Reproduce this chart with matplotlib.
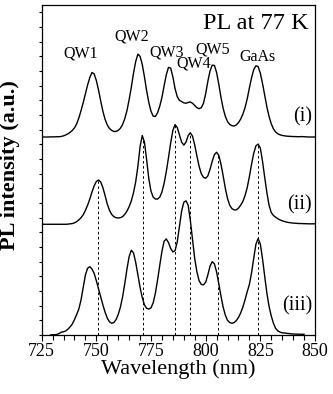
"""
PL Spectra Plot
===============
Stacked 77 K photoluminescence spectra of three samples, with dashed
markers at the peak positions of spectrum (ii).
"""

import numpy as np
import matplotlib
matplotlib.use("Agg")
import matplotlib.pyplot as plt
from matplotlib.ticker import MultipleLocator, NullFormatter

# Wavelength grids (nm)
wl_i = list(range(725, 851))
wl_ii = list(range(725, 851))
wl_iii = list(range(729, 846))

# PL intensity above each spectrum's own baseline (a.u.)
pl_i = [
    0, 0, 0, 0, 0.01, 0.01, 0.01, 0.02, 0.02, 0.04,
    0.08, 0.14, 0.22, 0.32, 0.45, 0.62, 0.9, 1.3, 1.8, 2.35,
    2.95, 3.55, 4.05, 4.4, 4.3, 3.85, 3.2, 2.45, 1.75, 1.2,
    0.82, 0.58, 0.45, 0.38, 0.38, 0.45, 0.6, 0.85, 1.25, 1.8,
    2.55, 3.4, 4.35, 5.15, 5.65, 5.5, 4.95, 4.1, 3.15, 2.35,
    1.75, 1.42, 1.4, 1.65, 2.1, 2.7, 3.5, 4.25, 4.75, 4.7,
    4.1, 3.3, 2.75, 2.5, 2.42, 2.33, 2.3, 2.36, 2.39, 2.3,
    2.15, 2.0, 1.93, 2.0, 2.3, 2.95, 3.8, 4.5, 4.9, 4.88,
    4.4, 3.6, 2.7, 1.95, 1.4, 1.05, 0.86, 0.77, 0.75, 0.82,
    0.98, 1.22, 1.55, 2.0, 2.6, 3.35, 4.05, 4.6, 4.86, 4.8,
    4.35, 3.65, 2.85, 2.05, 1.4, 0.9, 0.55, 0.34, 0.22, 0.15,
    0.11, 0.08, 0.06, 0.05, 0.04, 0.03, 0.03, 0.02, 0.02, 0.03,
    0.02, 0.01, 0, 0, 0, 0,
]
pl_ii = [
    0, 0, 0, 0, 0, 0, 0, 0, 0, 0,
    0, 0, 0.01, 0.03, 0.05, 0.1, 0.18, 0.3, 0.45, 0.65,
    0.95, 1.3, 1.72, 2.2, 2.62, 2.92, 3.02, 2.88, 2.5, 1.95,
    1.38, 0.95, 0.68, 0.52, 0.45, 0.43, 0.45, 0.52, 0.68, 0.9,
    1.2, 1.6, 2.15, 2.9, 3.95, 5.3, 6.05, 5.6, 4.4, 3.1,
    2.25, 1.85, 1.72, 1.72, 1.85, 2.2, 2.8, 3.6, 4.55, 5.55,
    6.4, 6.8, 6.6, 6.1, 5.6, 5.4, 5.6, 6.05, 6.24, 6.0,
    5.4, 4.65, 3.95, 3.45, 3.2, 3.14, 3.3, 3.75, 4.3, 4.75,
    4.91, 4.7, 4.1, 3.3, 2.45, 1.75, 1.3, 1.07, 0.98, 0.98,
    1.1, 1.3, 1.55, 1.95, 2.5, 3.25, 4.1, 4.85, 5.35, 5.47,
    5.2, 4.3, 3.2, 2.15, 1.3, 0.8, 0.6, 0.48, 0.38, 0.3,
    0.24, 0.19, 0.15, 0.12, 0.1, 0.08, 0.07, 0.06, 0.05, 0.05,
    0.04, 0.04, 0.03, 0.03, 0.03, 0.03,
]
pl_iii = [
    0, 0.02, 0.02, 0.04, 0.1, 0.2, 0.22, 0.28, 0.4, 0.56,
    0.75, 1.05, 1.4, 1.78, 2.4, 3.25, 4.1, 4.55, 4.66, 4.5,
    4.2, 3.7, 3.15, 2.6, 2.05, 1.55, 1.15, 0.9, 0.8, 0.85,
    1.05, 1.4, 1.9, 2.6, 3.5, 4.5, 5.35, 5.78, 5.6, 4.95,
    4.1, 3.25, 2.55, 2.05, 1.82, 1.77, 1.85, 2.2, 2.85, 3.75,
    4.75, 5.7, 6.4, 6.55, 6.3, 5.9, 5.66, 5.75, 6.35, 7.4,
    8.45, 9.05, 9.15, 8.85, 7.8, 6.5, 5.2, 4.3, 3.7, 3.45,
    3.42, 3.6, 4.1, 4.7, 5.0, 4.85, 4.3, 3.5, 2.65, 1.9,
    1.35, 1.0, 0.85, 0.8, 0.85, 0.98, 1.2, 1.5, 1.9, 2.4,
    2.95, 3.45, 4.25, 5.25, 6.2, 6.58, 6.2, 5.2, 4.0, 2.85,
    1.95, 1.3, 0.8, 0.45, 0.28, 0.2, 0.15, 0.14, 0.12, 0.1,
    0.08, 0.07, 0.06, 0.06, 0.05, 0.05, 0.05,
]

spectrum_labels = ["(i)", "(ii)", "(iii)"]
peak_names = ["QW1", "QW2", "QW3", "QW4", "QW5", "GaAs"]

# Peak wavelengths of spectrum (ii), marked with dashed lines (nm)
marker_wl = [750.8, 771.5, 786.0, 792.9, 805.5, 823.8]


def create_figure(filename: str):
    """Draw the three stacked spectra and save the figure."""
    plt.rcParams['font.family'] = ['Liberation Serif', 'DejaVu Serif']

    fig = plt.figure(figsize=(3.33, 3.94), dpi=100)
    ax = fig.add_axes([0.1252, 0.1497, 0.8207, 0.8376])

    offsets = [13.5, 7.55, 0.0]
    spectra = [(wl_i, pl_i), (wl_ii, pl_ii), (wl_iii, pl_iii)]
    for (wl, pl), off in zip(spectra, offsets):
        ax.plot(wl, np.array(pl) + off, color='k', linewidth=1.0, zorder=3)

    # Dashed markers from the (ii) peaks down to the axis
    tops = offsets[1] + np.interp(marker_wl, wl_ii, pl_ii)
    for x, top in zip(marker_wl, tops):
        ax.plot([x, x], [0, top], color='k', linewidth=0.7,
                linestyle=(0, (2.6, 2.6)), zorder=2)

    # Peak names
    name_x = [742.9, 766.1, 782.1, 794.6, 803.3, 823.9]
    name_y = [18.93, 20.06, 18.97, 18.22, 19.2, 18.7]
    for name, x, y in zip(peak_names, name_x, name_y):
        ax.text(x, y, name, ha='center', va='baseline', fontsize=11.5)

    # Spectrum labels
    label_y = [14.54, 8.57, 1.64]
    for lab, y in zip(spectrum_labels, label_y):
        ax.text(848.6, y, lab, ha='right', va='baseline', fontsize=14.5)

    ax.text(846.9, 20.84, "PL at 77 K", ha='right', va='baseline', fontsize=17.5)

    # Axes styling
    ax.set_xlim(725, 850)
    ax.set_ylim(0, 22.5)
    ax.xaxis.set_major_locator(MultipleLocator(25))
    ax.xaxis.set_minor_locator(MultipleLocator(5))
    ax.yaxis.set_major_locator(MultipleLocator(1))
    ax.yaxis.set_major_formatter(NullFormatter())
    ax.tick_params(axis='x', which='major', direction='out', length=4,
                   width=0.8, labelsize=13, pad=2)
    ax.tick_params(axis='x', which='minor', direction='out', length=3.5, width=0.8)
    ax.tick_params(axis='y', which='major', direction='out', length=2, width=0.8)
    for spine in ax.spines.values():
        spine.set_linewidth(0.9)

    ax.set_xlabel("Wavelength (nm)", fontsize=16, labelpad=-1)
    ax.set_ylabel("PL intensity (a.u.)", fontsize=16, fontweight='bold')
    ax.yaxis.set_label_coords(-0.079, 0.515)

    fig.savefig(filename, dpi=100)
    plt.close(fig)


if __name__ == "__main__":
    create_figure("out.png")
